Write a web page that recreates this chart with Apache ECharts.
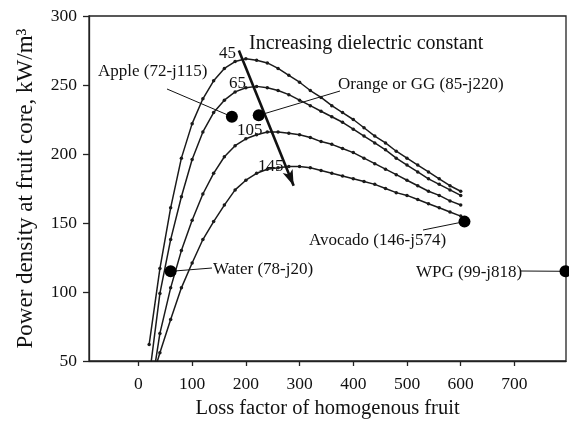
<!DOCTYPE html>
<html>
<head>
<meta charset="utf-8">
<script src="https://cdn.jsdelivr.net/npm/echarts@6/dist/echarts.min.js"></script>
<style>
  html, body { margin: 0; padding: 0; background: #fff; }
  #chart { width: 569px; height: 430px; }
</style>
</head>
<body>
<div id="chart"></div>
<script>
// loss factor (x) sample points shared by all curves
var lossFactor = [20, 40, 60, 80, 100, 120, 140, 160, 180, 200, 220, 240, 260, 280, 300,
  320, 340, 360, 380, 400, 420, 440, 460, 480, 500, 520, 540, 560, 580, 600];

// power density curves, one per dielectric constant
var curveNames = ["45", "65", "105", "145"];
var curve45 = [62, 117, 161, 197, 222, 240, 253, 262, 267, 269, 268, 266, 262, 257, 252,
  246, 241, 235, 230, 225, 219, 213, 208, 202, 197, 192, 187, 182, 177, 173];
var curve65 = [38, 99, 138, 169, 196, 216, 230, 239, 245, 248, 249, 248, 246, 243, 239,
  235, 231, 227, 223, 218, 213, 208, 203, 197, 192, 187, 182, 178, 174, 170];
var curve105 = [20, 70, 103, 130, 152, 171, 186, 198, 206, 211, 214, 216, 216, 215, 214,
  212, 209, 207, 204, 201, 197, 193, 189, 185, 181, 177, 173, 170, 166, 163];
var curve145 = [30, 56, 80, 103, 121, 138, 151, 163, 174, 181, 186, 189, 190, 191, 191,
  190, 188, 186, 184, 182, 180, 178, 175, 172, 170, 167, 164, 161, 158, 155];

// measured materials
var pointNames = ["Apple (72-j115)", "Orange or GG (85-j220)", "Water (78-j20)", "Avocado (146-j574)", "WPG (99-j818)"];
var pointX = [174, 224, 60, 607, 795];
var pointY = [227, 228, 115, 151, 115];

var xTicks = [0, 100, 200, 300, 400, 500, 600, 700];

var FONT = "'Liberation Serif', 'Times New Roman', serif";

var myChart = echarts.init(document.getElementById("chart"));

function pairs(ys) {
  var out = [];
  for (var i = 0; i < lossFactor.length; i++) out.push([lossFactor[i], ys[i]]);
  return out;
}

var curves = [curve45, curve65, curve105, curve145];
var series = [];
for (var c = 0; c < curves.length; c++) {
  series.push({
    name: curveNames[c],
    type: "line",
    data: pairs(curves[c]),
    symbol: "circle",
    symbolSize: 3.5,
    showAllSymbol: true,
    clip: true,
    lineStyle: { color: "#1a1a1a", width: 1.5 },
    itemStyle: { color: "#1a1a1a" },
    silent: true,
    z: 3
  });
}

var pts = [];
for (var j = 0; j < pointNames.length; j++) pts.push([pointX[j], pointY[j]]);
series.push({
  type: "scatter",
  data: pts,
  symbolSize: 12,
  itemStyle: { color: "#000", opacity: 1 },
  clip: false,
  silent: true,
  z: 5
});

// "increasing dielectric constant" arrow
series[0].markLine = {
  silent: true,
  symbol: ["none", "arrow"],
  symbolSize: [8, 16],
  label: { show: false },
  lineStyle: { color: "#111", width: 2.6, type: "solid" },
  data: [[{ coord: [187, 275] }, { coord: [289, 177] }]]
};

myChart.setOption({
  animation: false,
  grid: {
    left: 89, right: 3, top: 16, bottom: 69,
    show: true, borderColor: "#222", borderWidth: 1.3
  },
  xAxis: {
    type: "value",
    min: -92,
    max: 796,
    name: "Loss factor of homogenous fruit",
    nameLocation: "middle",
    nameGap: 33,
    nameTextStyle: { fontFamily: FONT, fontSize: 20.5, color: "#111" },
    axisLine: { show: true, onZero: false, lineStyle: { color: "#222", width: 1.3 } },
    axisTick: { show: true, customValues: xTicks, length: 5, lineStyle: { color: "#222", width: 1.3 } },
    axisLabel: { customValues: xTicks, margin: 14, fontFamily: FONT, fontSize: 17.5, color: "#111" },
    splitLine: { show: false }
  },
  yAxis: {
    type: "value",
    min: 50,
    max: 300,
    interval: 50,
    name: "Power density at fruit core, kW/m\u00B3",
    nameLocation: "middle",
    nameGap: 52,
    nameTextStyle: { fontFamily: FONT, fontSize: 23, color: "#111" },
    axisLine: { show: true, onZero: false, lineStyle: { color: "#222", width: 1.3 } },
    axisTick: { show: true, length: 6, lineStyle: { color: "#222", width: 1.3 } },
    axisLabel: { margin: 12, fontFamily: FONT, fontSize: 17.5, color: "#111" },
    splitLine: { show: false }
  },
  series: series
});

// text annotations and leader lines
var notes = [
  { text: pointNames[0], x: 98, y: 72, from: [167, 89] },
  { text: pointNames[1], x: 338, y: 85, from: [340, 91] },
  { text: pointNames[2], x: 213, y: 270, from: [212, 268] },
  { text: pointNames[3], x: 309, y: 241, from: [423, 230] },
  { text: pointNames[4], x: 416, y: 273, from: [521, 271] }
];
var graphics = [];
for (var k = 0; k < notes.length; k++) {
  var n = notes[k];
  var p = myChart.convertToPixel({ gridIndex: 0 }, [pointX[k], pointY[k]]);
  graphics.push({
    type: "text", left: n.x, top: n.y - 8.5, silent: true,
    style: { text: n.text, font: "17px " + FONT, fill: "#111" }
  });
  graphics.push({
    type: "line", silent: true,
    shape: { x1: n.from[0], y1: n.from[1], x2: p[0], y2: p[1] },
    style: { stroke: "#111", lineWidth: 1 }
  });
}
graphics.push({
  type: "text", left: 249, top: 34, silent: true,
  style: { text: "Increasing dielectric constant", font: "20px " + FONT, fill: "#111" }
});
var tags = [[219, 45], [229, 75], [237, 122], [258, 158]];
for (var t = 0; t < curveNames.length; t++) {
  graphics.push({
    type: "text", left: tags[t][0], top: tags[t][1], silent: true,
    style: { text: curveNames[t], font: "17px " + FONT, fill: "#111" }
  });
}
myChart.setOption({ graphic: graphics });
</script>
</body>
</html>
